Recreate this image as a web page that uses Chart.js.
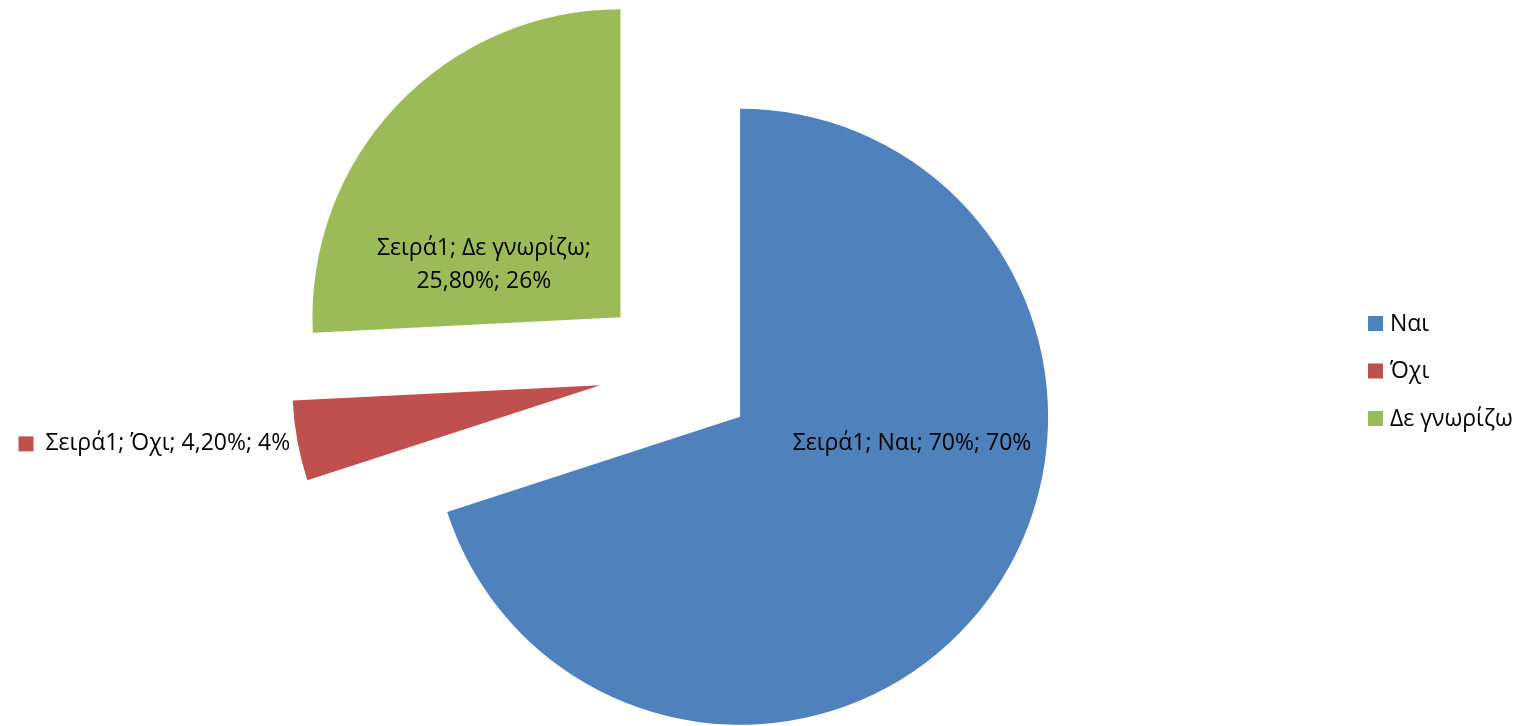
<!DOCTYPE html>
<html><head><meta charset="utf-8">
<script src="https://cdn.jsdelivr.net/npm/chart.js@4/dist/chart.umd.min.js"></script>
<style>html,body{margin:0;padding:0;background:#fff;}#wrap{width:1529px;height:726px;position:relative;}</style>
</head><body><div id="wrap"><canvas id="c" width="1529" height="726"></canvas></div>
<script>
const categories = ["Ναι", "Όχι", "Δε γνωρίζω"];
const values = [70, 4.2, 25.8];
const labelTexts = [["Σειρά1; Ναι; 70%; 70%"], ["Σειρά1; Όχι; 4,20%; 4%"], ["Σειρά1; Δε γνωρίζω;", "25,80%; 26%"]];
const colors = ["#4F81BD", "#C0504D", "#9BBB59"];
const FONT = '23px "Open Sans", "Liberation Sans", Arial, sans-serif';
const R = 308;        // pie radius in px
const EXPLODE = 78;   // explosion distance in px

// Chart.js v4 translates each arc by offset/4, grows its radius by (offset/4)*fix and
// trims its angle; compensate so every slice keeps radius R and its exact angle.
const equalRadiusPlugin = {
  id: 'equalRadius',
  beforeDatasetsDraw(chart) {
    const meta = chart.getDatasetMeta(0);
    meta.data.forEach(arc => {
      const circ = arc.circumference;
      const fix = 1 - Math.sin(Math.min(Math.PI, circ));
      const ro = EXPLODE * fix;
      arc.outerRadius = R - ro;
      const mid = (arc.startAngle + arc.endAngle) / 2;
      const delta = ro / (2 * Math.PI * R);
      arc.startAngle = mid - circ / 2 - delta;
      arc.endAngle = mid + circ / 2 + delta;
    });
  }
};

const labelPlugin = {
  id: 'labels',
  afterDatasetsDraw(chart) {
    const ctx = chart.ctx;
    const meta = chart.getDatasetMeta(0);
    ctx.save();
    ctx.font = FONT;
    ctx.fillStyle = '#000';
    ctx.textBaseline = 'middle';
    const rel = [[0.763, 0.235, 'center'], [-1.256, 0.235, 'right'], [-0.627, -0.344, 'center']];
    meta.data.forEach((arc, i) => {
      const lx = arc.x + R * rel[i][0];
      const ly = arc.y + R * rel[i][1];
      const align = rel[i][2];
      const lines = labelTexts[i];
      const lh = 33;
      ctx.textAlign = align;
      lines.forEach((t, k) => {
        ctx.fillText(t, lx, ly + (k - (lines.length - 1) / 2) * lh);
      });
      if (i === 1) {
        const w = ctx.measureText(lines[0]).width;
        ctx.fillStyle = colors[1];
        ctx.fillRect(lx - w - 27, ly - 7, 15, 15);
        ctx.fillStyle = '#000';
      }
    });
    // legend
    const lx0 = 1368, ly0 = 323, gap = 47.5;
    ctx.textAlign = 'left';
    categories.forEach((c, i) => {
      ctx.fillStyle = colors[i];
      ctx.fillRect(lx0, ly0 + i * gap - 7, 15, 15);
      ctx.fillStyle = '#000';
      ctx.fillText(c, lx0 + 22, ly0 + i * gap + 1);
    });
    ctx.restore();
  }
};

new Chart(document.getElementById('c'), {
  type: 'pie',
  data: {
    labels: categories,
    datasets: [{
      data: values,
      backgroundColor: colors,
      borderWidth: 0,
      offset: EXPLODE * 4,
      clip: false
    }]
  },
  options: {
    responsive: false,
    animation: false,
    radius: R,
    layout: { padding: { left: 0, right: 175, top: 16, bottom: 0 } },
    plugins: { legend: { display: false }, tooltip: { enabled: false } }
  },
  plugins: [equalRadiusPlugin, labelPlugin]
});
</script>
</body></html>
